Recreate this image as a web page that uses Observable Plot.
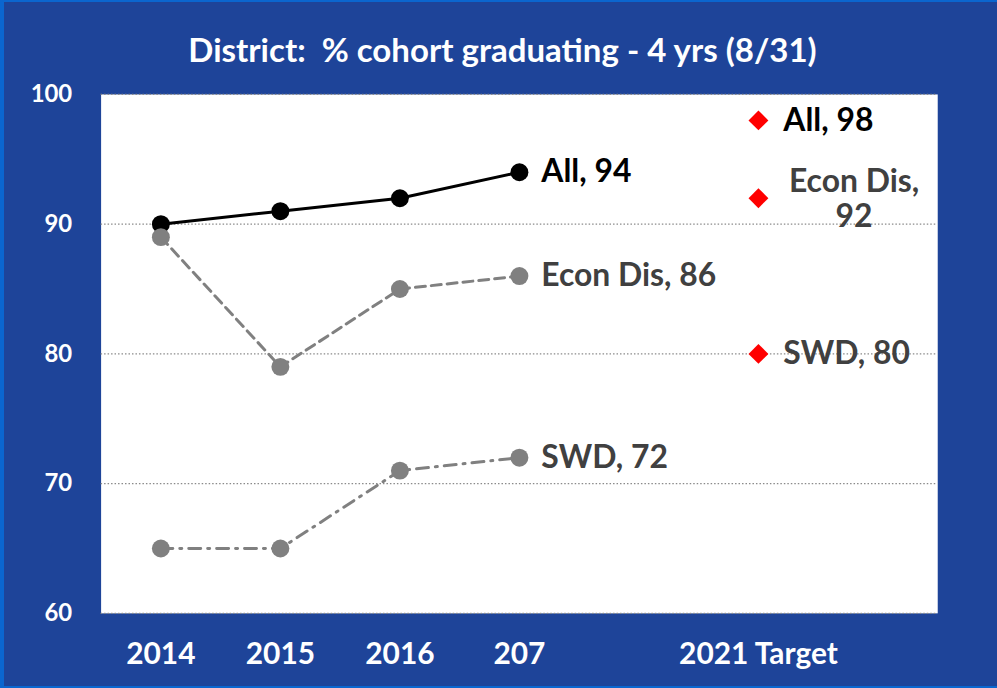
<!DOCTYPE html>
<html>
<head>
<meta charset="utf-8">
<script src="https://cdn.jsdelivr.net/npm/d3@7"></script>
<script src="https://cdn.jsdelivr.net/npm/@observablehq/plot@0.6"></script>
<style>
  html, body { margin: 0; padding: 0; background: #ffffff; }
  #wrap {
    width: 997px; height: 688px; box-sizing: border-box;
    background: #1E4499;
    border-left: 4px solid #0B66CF; border-top: 2px solid #0B66CF; border-bottom: 2px solid #0B66CF;
    position: relative; overflow: hidden;
  }
  #title {
    position: absolute; left: 0; top: 27px; width: 997px; text-align: center;
    color: #ffffff; font-family: Lato, "Open Sans", sans-serif; font-weight: bold; font-size: 33px;
    line-height: 40px;
  }
  #chart { position: absolute; left: -4px; top: 78px; }
</style>
</head>
<body>
<div id="wrap">
  <div id="title">District:&nbsp; % cohort graduating - 4 yrs (8/31)</div>
  <div id="chart"></div>
</div>
<script>
const categories = ["2014", "2015", "2016", "207", " ", "2021 Target", "  "];
const years = ["2014", "2015", "2016", "207"];
const allValues = [90, 91, 92, 94];
const econValues = [89, 79, 85, 86];
const swdValues = [65, 65, 71, 72];
const targetCategory = "2021 Target";
const targetNames = ["All", "Econ Dis", "SWD"];
const targetValues = [98, 92, 80];
const yTicks = [60, 70, 80, 90, 100];

const allData = years.map((y, i) => ({x: y, v: allValues[i]}));
const econData = years.map((y, i) => ({x: y, v: econValues[i]}));
const swdData = years.map((y, i) => ({x: y, v: swdValues[i]}));
const targetData = targetNames.map((n, i) => ({x: targetCategory, v: targetValues[i], name: n}));
const last = years.length - 1;

const font = "Lato, 'Open Sans', sans-serif";
const labelSize = 32;

const plot = Plot.plot({
  width: 1001,
  height: 610,
  marginLeft: 101,
  marginRight: 60,
  marginTop: 14,
  marginBottom: 75,
  style: {background: "transparent", fontFamily: font, fontWeight: "bold", fontSize: "24px", overflow: "visible"},
  x: {type: "point", domain: categories, padding: 0.5, label: null},
  y: {domain: [60, 100], label: null},
  marks: [
    Plot.frame({fill: "white", stroke: null}),
    Plot.ruleY(yTicks, {stroke: "#8a8a8a", strokeWidth: 1.2, strokeDasharray: "1.5,2"}),
    Plot.axisY({ticks: yTicks, tickSize: 0, tickPadding: 29, color: "white", fontSize: 24, fontWeight: "bold", label: null}),
    Plot.axisX({tickSize: 0, tickPadding: 30, color: "white", fontSize: 30, fontWeight: "bold", label: null, tickFormat: d => d.trim()}),
    // All
    Plot.line(allData, {x: "x", y: "v", stroke: "#000000", strokeWidth: 3}),
    Plot.dot(allData, {x: "x", y: "v", r: 9, fill: "#000000"}),
    // Econ Dis
    Plot.line(econData, {x: "x", y: "v", stroke: "#808080", strokeWidth: 3, strokeDasharray: "10,6"}),
    Plot.dot(econData, {x: "x", y: "v", r: 9, fill: "#808080"}),
    // SWD
    Plot.line(swdData, {x: "x", y: "v", stroke: "#808080", strokeWidth: 3, strokeDasharray: "12,7,2,7"}),
    Plot.dot(swdData, {x: "x", y: "v", r: 9, fill: "#808080"}),
    // end labels
    Plot.text([allData[last]], {x: "x", y: "v", text: d => `All, ${d.v}`, textAnchor: "start", dx: 22, fill: "#000000", fontSize: labelSize, fontWeight: "bold"}),
    Plot.text([econData[last]], {x: "x", y: "v", text: d => `Econ Dis, ${d.v}`, textAnchor: "start", dx: 22, fill: "#404040", fontSize: labelSize, fontWeight: "bold"}),
    Plot.text([swdData[last]], {x: "x", y: "v", text: d => `SWD, ${d.v}`, textAnchor: "start", dx: 22, fill: "#404040", fontSize: labelSize, fontWeight: "bold"}),
    // targets
    Plot.dot(targetData, {x: "x", y: "v", symbol: "diamond2", r: 9, fill: "#ff0000"}),
    Plot.text([targetData[0]], {x: "x", y: "v", text: d => `${d.name}, ${d.v}`, textAnchor: "start", dx: 25, fill: "#000000", fontSize: labelSize, fontWeight: "bold"}),
    Plot.text([targetData[1]], {x: "x", y: "v", text: d => `${d.name},\n${d.v}`, textAnchor: "middle", dx: 96, dy: 0, lineHeight: 1.1, fill: "#404040", fontSize: labelSize, fontWeight: "bold"}),
    Plot.text([targetData[2]], {x: "x", y: "v", text: d => `${d.name}, ${d.v}`, textAnchor: "start", dx: 25, fill: "#404040", fontSize: labelSize, fontWeight: "bold"})
  ]
});
document.getElementById("chart").appendChild(plot);
</script>
</body>
</html>
